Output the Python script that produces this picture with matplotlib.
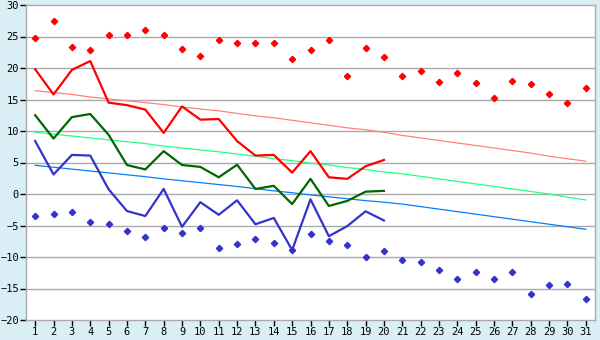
import numpy as np
import matplotlib
matplotlib.use('Agg')
import matplotlib.pyplot as plt

days = list(range(1, 32))
obs_days = list(range(1, 21))

# record highs / lows per day (diamonds)
rec_max = [24.7, 27.4, 23.3, 22.8, 25.3, 25.2, 26.0, 25.2, 23.0, 21.9,
           24.4, 24.0, 23.9, 23.9, 21.4, 22.8, 24.4, 18.8, 23.1, 21.7,
           18.8, 19.5, 17.7, 19.2, 17.6, 15.2, 18.0, 17.4, 15.8, 14.4, 16.8]
rec_min = [-3.5, -3.2, -2.9, -4.5, -4.8, -5.9, -6.9, -5.4, -6.2, -5.4,
           -8.5, -8.0, -7.2, -7.8, -8.9, -6.4, -7.5, -8.1, -10.0, -9.1,
           -10.4, -10.8, -12.1, -13.5, -12.4, -13.5, -12.4, -15.9, -14.5, -14.3, -16.7]

# observed values for the month so far
t_max = [19.8, 15.8, 19.7, 21.1, 14.5, 14.1, 13.4, 9.7, 13.9, 11.8,
         11.9, 8.4, 6.1, 6.2, 3.4, 6.8, 2.65, 2.4, 4.4, 5.4]
t_mean = [12.5, 8.8, 12.2, 12.7, 9.4, 4.6, 3.9, 6.8, 4.6, 4.3,
          2.65, 4.65, 0.8, 1.3, -1.6, 2.4, -1.9, -1.1, 0.37, 0.5]
t_min = [8.4, 3.1, 6.2, 6.1, 0.75, -2.7, -3.5, 0.8, -5.2, -1.3,
         -3.3, -1.0, -4.8, -3.8, -8.9, -0.85, -6.7, -5.1, -2.75, -4.2]

# climate normals
norm_max = [16.4, 16.1, 15.8, 15.4, 15.1, 14.8, 14.5, 14.2, 13.8, 13.5,
            13.2, 12.8, 12.4, 12.1, 11.7, 11.3, 10.9, 10.5, 10.2, 9.8,
            9.3, 8.9, 8.5, 8.1, 7.7, 7.3, 6.9, 6.5, 6.0, 5.6, 5.2]
norm_mean = [9.8, 9.5, 9.2, 8.9, 8.6, 8.3, 8.0, 7.6, 7.3, 7.0,
             6.7, 6.35, 6.0, 5.6, 5.3, 4.9, 4.6, 4.2, 3.9, 3.5,
             3.2, 2.8, 2.4, 2.0, 1.6, 1.2, 0.8, 0.4, 0.0, -0.5, -0.95]
norm_min = [4.55, 4.25, 3.95, 3.65, 3.35, 3.05, 2.75, 2.4, 2.1, 1.8,
            1.5, 1.2, 0.85, 0.5, 0.2, -0.15, -0.45, -0.75, -1.05, -1.3,
            -1.6, -2.0, -2.4, -2.8, -3.2, -3.6, -4.0, -4.4, -4.8, -5.2, -5.6]

bg = '#d9eef5'
grid_col = '#aaaaaa'

fig = plt.figure(figsize=(6, 3.4), dpi=100, facecolor=bg)
ax = fig.add_axes([26 / 600, 1 - 320 / 340, 569 / 600, 315 / 340])
ax.set_facecolor('white')

for y in range(-15, 30, 5):
    ax.axhline(y, color=grid_col, lw=1.0, zorder=1)

ax.plot(days, norm_max, color='#ff8080', lw=0.9, zorder=2)
ax.plot(days, norm_mean, color='#22ff88', lw=0.9, zorder=2)
ax.plot(days, norm_min, color='#0080ff', lw=0.9, zorder=2)

ax.plot(obs_days, t_max, color='#ff0000', lw=1.6, zorder=3)
ax.plot(obs_days, t_mean, color='#006600', lw=1.6, zorder=3)
ax.plot(obs_days, t_min, color='#3333cc', lw=1.6, zorder=3)

ax.plot(days, rec_max, ls='none', marker='D', ms=3.2, color='#ff0000', zorder=4)
ax.plot(days, rec_min, ls='none', marker='D', ms=3.2, color='#3333cc', zorder=4)

ax.set_xlim(0.5, 31.5)
ax.set_ylim(-20, 30)
ax.set_xticks(days)
ax.set_yticks(range(-20, 31, 5))
for s in ax.spines.values():
    s.set_color(grid_col)
    s.set_linewidth(1.0)
ax.tick_params(axis='both', colors='black', labelsize=7.5, length=4, width=1, pad=1)
for lab in ax.get_xticklabels() + ax.get_yticklabels():
    lab.set_family('DejaVu Sans Mono')

fig.savefig('out.png', dpi=100, facecolor=bg)
